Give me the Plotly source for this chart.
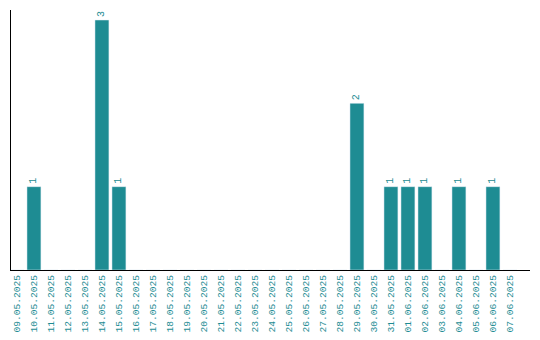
import plotly.graph_objects as go

dates = ["09.05.2025", "10.05.2025", "11.05.2025", "12.05.2025", "13.05.2025",
         "14.05.2025", "15.05.2025", "16.05.2025", "17.05.2025", "18.05.2025",
         "19.05.2025", "20.05.2025", "21.05.2025", "22.05.2025", "23.05.2025",
         "24.05.2025", "25.05.2025", "26.05.2025", "27.05.2025", "28.05.2025",
         "29.05.2025", "30.05.2025", "31.05.2025", "01.06.2025", "02.06.2025",
         "03.06.2025", "04.06.2025", "05.06.2025", "06.06.2025", "07.06.2025"]
counts = [0, 1, 0, 0, 0, 3, 1, 0, 0, 0,
          0, 0, 0, 0, 0, 0, 0, 0, 0, 0,
          2, 0, 1, 1, 1, 0, 1, 0, 1, 0]

teal = "#1e8c93"
labels = [str(v) if v > 0 else "" for v in counts]

fig = go.Figure(go.Bar(
    x=list(range(len(dates))), y=counts, marker_color=teal,
    text=labels, textposition="outside", textangle=-90,
    textfont=dict(family="Liberation Mono", size=10, color=teal),
    cliponaxis=False,
))
fig.update_layout(
    width=540, height=340, margin=dict(l=3, r=18, t=2, b=78, autoexpand=False),
    plot_bgcolor="white", paper_bgcolor="white", showlegend=False,
    bargap=0.18,
)
fig.update_xaxes(
    tickmode="array", tickvals=list(range(len(dates))), ticktext=dates,
    tickangle=-90, tickfont=dict(family="Liberation Mono", size=9.6, color=teal),
    range=[-0.35, 30.18], showline=True, linecolor="black", linewidth=1.2,
    showgrid=False, ticks="", zeroline=False, automargin=False,
)
fig.update_yaxes(
    range=[0, 3.12], showline=True, linecolor="black", linewidth=1.2,
    showgrid=False, showticklabels=False, ticks="", zeroline=False, automargin=False,
)
fig.write_html("out.html")
